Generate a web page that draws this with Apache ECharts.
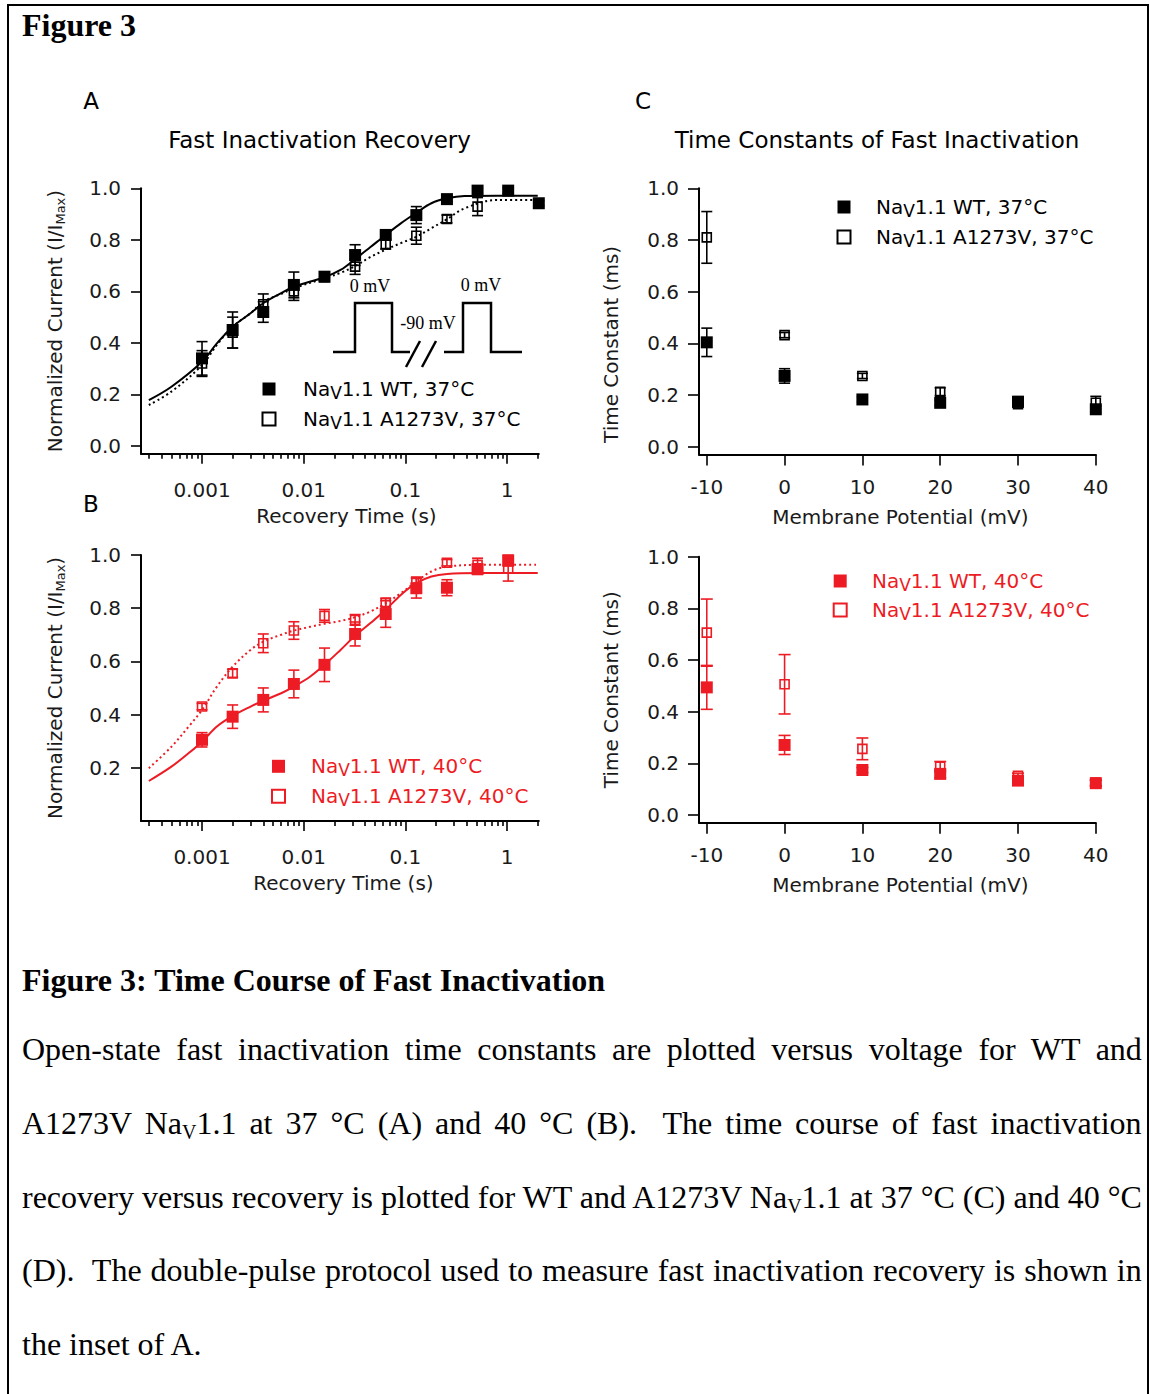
<!DOCTYPE html>
<html>
<head>
<meta charset="utf-8">
<script src="https://cdn.jsdelivr.net/npm/echarts@6/dist/echarts.min.js"></script>
<style>
  body { margin: 0; background: #fff; }
  #page { position: relative; width: 1150px; height: 1394px; overflow: hidden; background: #fff; }
  #frame { position: absolute; left: 7px; top: 4px; width: 1142px; height: 1420px; border: 2px solid #000; box-sizing: border-box; }
  #chart { position: absolute; left: 0; top: 0; width: 1150px; height: 940px; }
  .serif { position: absolute; left: 22px; font-family: "Liberation Serif", "Times New Roman", serif; color: #000; white-space: nowrap; line-height: 32px; }
  .bold { font-weight: bold; font-size: 32px; }
  .body { font-size: 32px; }
  .sub { font-size: 20px; position: relative; top: 5px; }
</style>
</head>
<body>
<div id="page">
  <div id="frame"></div>
  <div class="serif bold" style="top:9px">Figure 3</div>
  <div id="chart"></div>
  <div class="serif bold" style="top:964px">Figure 3: Time Course of Fast Inactivation</div>
  <div class="serif body fit" style="top:1033px">Open-state fast inactivation time constants are plotted versus voltage for WT and</div>
  <div class="serif body fit" style="top:1107px">A1273V Na<span class="sub">V</span>1.1 at 37 °C (A) and 40 °C (B).&nbsp; The time course of fast inactivation</div>
  <div class="serif body fit" style="top:1181px">recovery versus recovery is plotted for WT and A1273V Na<span class="sub">V</span>1.1 at 37 °C (C) and 40 °C</div>
  <div class="serif body fit" style="top:1254px">(D).&nbsp; The double-pulse protocol used to measure fast inactivation recovery is shown in</div>
  <div class="serif body" style="top:1328px">the inset of A.</div>
</div>
<script>
// ---------- recovery from fast inactivation (A: 37ºC, B: 40ºC) ----------
var recTimes = [0.001, 0.002, 0.004, 0.008, 0.016, 0.032, 0.064, 0.128, 0.256, 0.512, 1.024, 2.048];

var wt37     = [0.34, 0.45, 0.52, 0.625, 0.657, 0.741, 0.819, 0.896, 0.958, 0.991, 0.991, 0.942];
var wt37Err  = [0.065, 0.07, 0.04, 0.05, 0.015, 0.04, 0.02, 0.033, 0.01, 0.01, 0.01, 0.01];
var mut37    = [0.32, 0.44, 0.55, 0.60, 0.655, 0.696, 0.784, 0.816, 0.881, 0.929];
var mut37Err = [0.05, 0.06, 0.04, 0.035, 0.015, 0.03, 0.02, 0.033, 0.015, 0.035];

var wt40     = [0.305, 0.392, 0.455, 0.515, 0.587, 0.703, 0.778, 0.875, 0.877, 0.947, 0.979];
var wt40Err  = [0.027, 0.044, 0.045, 0.052, 0.063, 0.045, 0.05, 0.037, 0.03, 0.02, 0.02];
var mut40    = [0.43, 0.555, 0.668, 0.716, 0.771, 0.756, 0.821, 0.90, 0.971, 0.963, 0.95];
var mut40Err = [0.012, 0.015, 0.035, 0.033, 0.024, 0.02, 0.015, 0.015, 0.012, 0.025, 0.048];

// fitted curves
var fitTimesA = [0.0003, 0.0005, 0.001, 0.0014, 0.002, 0.003, 0.004, 0.006, 0.008, 0.016, 0.023, 0.032, 0.045, 0.064, 0.09, 0.128, 0.18, 0.256, 0.38, 0.8, 2.0];
var fitWt37   = [0.178, 0.230, 0.327, 0.398, 0.463, 0.515, 0.554, 0.593, 0.618, 0.655, 0.683, 0.725, 0.771, 0.819, 0.864, 0.905, 0.942, 0.961, 0.970, 0.971, 0.971];
var fitMut37  = [0.159, 0.211, 0.314, 0.392, 0.463, 0.515, 0.560, 0.590, 0.612, 0.651, 0.672, 0.698, 0.733, 0.762, 0.787, 0.812, 0.845, 0.880, 0.922, 0.955, 0.955];

var fitTimesB = [0.0003, 0.0005, 0.00074, 0.001, 0.0014, 0.002, 0.003, 0.004, 0.006, 0.008, 0.0116, 0.016, 0.023, 0.032, 0.045, 0.064, 0.09, 0.128, 0.18, 0.256, 0.55, 2.0];
var fitWt40   = [0.150, 0.204, 0.255, 0.298, 0.355, 0.395, 0.430, 0.452, 0.480, 0.505, 0.543, 0.587, 0.643, 0.696, 0.743, 0.794, 0.850, 0.894, 0.919, 0.929, 0.932, 0.932];
var fitMut40  = [0.198, 0.279, 0.355, 0.417, 0.505, 0.580, 0.643, 0.674, 0.700, 0.716, 0.730, 0.741, 0.752, 0.766, 0.787, 0.819, 0.856, 0.900, 0.938, 0.956, 0.963, 0.963];

// ---------- time constants (C: 37°C, D: 40°C) ----------
var voltages = [-10, 0, 10, 20, 30, 40];
var tauWt37     = [0.404, 0.274, 0.183, 0.170, 0.174, 0.145];
var tauWt37Err  = [0.055, 0.028, 0.01, 0.01, 0.02, 0.012];
var tauMut37    = [0.81, 0.432, 0.274, 0.213, 0.165, 0.17];
var tauMut37Err = [0.10, 0.01, 0.01, 0.015, 0.01, 0.025];
var tauWt40     = [0.494, 0.271, 0.174, 0.159, 0.133, 0.123];
var tauWt40Err  = [0.085, 0.037, 0.01, 0.015, 0.012, 0.012];
var tauMut40    = [0.706, 0.506, 0.256, 0.187, 0.152, 0.125];
var tauMut40Err = [0.13, 0.115, 0.042, 0.02, 0.01, 0.01];

// ---------- ticks ----------
var yTicks = [0, 0.2, 0.4, 0.6, 0.8, 1.0];
var yTicksB = [0.2, 0.4, 0.6, 0.8, 1.0];
var timeMajor = [0.001, 0.01, 0.1, 1];
var timeMajorLabels = ['0.001', '0.01', '0.1', '1'];
var timeMinor = [0.0003, 0.0004, 0.0005, 0.0006, 0.0007, 0.0008, 0.0009,
  0.002, 0.003, 0.004, 0.005, 0.006, 0.007, 0.008, 0.009,
  0.02, 0.03, 0.04, 0.05, 0.06, 0.07, 0.08, 0.09,
  0.2, 0.3, 0.4, 0.5, 0.6, 0.7, 0.8, 0.9, 2];
var vTicks = [-10, 0, 10, 20, 30, 40];

var FONT = 'DejaVu Sans';
var RED = '#ed1c24';
var TXT = '#1a1a1a';
var lg = function (t) { return Math.log10(t); };

function pairs(xs, ys, tf) {
  return ys.map(function (y, i) { return [tf ? tf(xs[i]) : xs[i], y]; });
}
function triples(xs, ys, es, tf) {
  return ys.map(function (y, i) { return [tf ? tf(xs[i]) : xs[i], y, es[i]]; });
}

function errBars(xi, yi, data, color, cap) {
  return {
    type: 'custom', xAxisIndex: xi, yAxisIndex: yi, z: 3, silent: true,
    encode: { x: 0, y: 1 },
    data: data,
    renderItem: function (params, api) {
      var x = api.value(0), y = api.value(1), e = api.value(2);
      var p1 = api.coord([x, y + e]);
      var p2 = api.coord([x, y - e]);
      var st = { stroke: color, lineWidth: 1.6 };
      return {
        type: 'group',
        children: [
          { type: 'line', shape: { x1: p1[0], y1: p1[1], x2: p2[0], y2: p2[1] }, style: st },
          { type: 'line', shape: { x1: p1[0] - cap, y1: p1[1], x2: p1[0] + cap, y2: p1[1] }, style: st },
          { type: 'line', shape: { x1: p2[0] - cap, y1: p2[1], x2: p2[0] + cap, y2: p2[1] }, style: st }
        ]
      };
    }
  };
}

function fitLine(xi, yi, data, color, dotted) {
  return {
    type: 'line', xAxisIndex: xi, yAxisIndex: yi, z: 2, silent: true,
    data: data, smooth: 0.35, symbol: 'none', showSymbol: false,
    lineStyle: { color: color, width: 2, type: dotted ? [2, 3] : 'solid' }
  };
}

function marks(name, xi, yi, data, color, open) {
  return {
    type: 'scatter', name: name, xAxisIndex: xi, yAxisIndex: yi, z: open ? 5 : 4,
    data: data, symbol: 'rect', symbolSize: open ? 9 : 12,
    itemStyle: open ? { color: 'rgba(0,0,0,0)', borderColor: color, borderWidth: 1.6, opacity: 1 }
                    : { color: color, opacity: 1 }
  };
}

var axisLineStyle = { color: '#000', width: 2 };

function timeAxisMajor(grid) {
  return {
    type: 'value', gridIndex: grid, position: 'bottom', min: -3.6, max: lg(2.048),
    axisLine: { onZero: false, lineStyle: axisLineStyle },
    axisTick: { customValues: timeMajor.map(lg), length: 10, lineStyle: { color: '#000', width: 1.6 } },
    axisLabel: {
      customValues: timeMajor.map(lg), margin: 26, fontSize: 20, fontFamily: FONT, color: TXT,
      formatter: function (v) { return timeMajorLabels[Math.round(v) + 3]; }
    },
    splitLine: { show: false },
    name: 'Recovery Time (s)', nameLocation: 'middle', nameGap: 52,
    nameTextStyle: { fontSize: 20, fontFamily: FONT, color: TXT, padding: [0, 0, 0, grid === 0 ? 13 : 7] }
  };
}
function timeAxisMinor(grid) {
  return {
    type: 'value', gridIndex: grid, position: 'bottom', min: -3.6, max: lg(2.048),
    axisLine: { show: false, onZero: false },
    axisTick: { customValues: timeMinor.map(lg), length: 5, lineStyle: { color: '#000', width: 1.6 } },
    axisLabel: { show: false },
    splitLine: { show: false }
  };
}
function voltAxis(grid) {
  return {
    type: 'value', gridIndex: grid, position: 'bottom', min: -11, max: 40,
    axisLine: { onZero: false, lineStyle: axisLineStyle },
    axisTick: { customValues: vTicks, length: 11, lineStyle: { color: '#000', width: 1.6 } },
    axisLabel: { customValues: vTicks, margin: 22, fontSize: 20, fontFamily: FONT, color: TXT },
    splitLine: { show: false },
    name: 'Membrane Potential (mV)', nameLocation: 'middle', nameGap: 52,
    nameTextStyle: { fontSize: 20, fontFamily: FONT, color: TXT, padding: [0, 0, 0, 6] }
  };
}
function valueAxis(grid, min, ticks, name, gap, pad, tickLen) {
  return {
    type: 'value', gridIndex: grid, min: min, max: 1,
    axisLine: { onZero: false, lineStyle: axisLineStyle },
    axisTick: { customValues: ticks, length: tickLen, lineStyle: { color: '#000', width: 1.6 } },
    axisLabel: {
      customValues: ticks, margin: 20, fontSize: 20, fontFamily: FONT, color: TXT,
      formatter: function (v) { return v.toFixed(1); }
    },
    splitLine: { show: false },
    name: name, nameLocation: 'middle', nameRotate: 90, nameGap: gap,
    nameTextStyle: {
      fontSize: 20, fontFamily: FONT, color: TXT, padding: pad,
      rich: {
        a: { fontSize: 20, fontFamily: FONT, color: TXT, lineHeight: 24 },
        b: { fontSize: 13, fontFamily: FONT, color: TXT, lineHeight: 12, verticalAlign: 'bottom' }
      }
    }
  };
}

var legendLabels = {
  wtA: ['Na', 'V', '1.1 WT, 37°C'],
  mutA: ['Na', 'V', '1.1 A1273V, 37°C'],
  wtB: ['Na', 'V', '1.1 WT, 40°C'],
  mutB: ['Na', 'V', '1.1 A1273V, 40°C'],
  wtC: ['Na', 'V', '1.1 WT, 37°C'],
  mutC: ['Na', 'V', '1.1 A1273V, 37°C'],
  wtD: ['Na', 'V', '1.1 WT, 40°C'],
  mutD: ['Na', 'V', '1.1 A1273V, 40°C']
};
function legendAt(ids, left, top, gap, spacer, color) {
  return {
    orient: 'vertical', left: left, top: top, padding: 0, itemGap: gap,
    itemWidth: 13, itemHeight: 13, selectedMode: false, data: ids,
    itemStyle: { opacity: 1 },
    formatter: function (id) {
      var p = legendLabels[id];
      return '{g|}{n|' + p[0] + '}{s|' + p[1] + '}{n|' + p[2] + '}';
    },
    textStyle: {
      color: color,
      rich: {
        g: { width: spacer, lineHeight: 24 },
        n: { fontSize: 20, fontFamily: FONT, color: color, lineHeight: 24 },
        s: { fontSize: 17, fontFamily: FONT, color: color, lineHeight: 14, verticalAlign: 'bottom' }
      }
    }
  };
}

function label(text, x, y, size) {
  return { type: 'text', x: x, y: y, silent: true,
    style: { text: text, fontSize: size, fontFamily: FONT, fill: '#000', align: 'center', verticalAlign: 'middle' } };
}
function serifLabel(text, x, y) {
  return { type: 'text', x: x, y: y, silent: true,
    style: { text: text, fontSize: 18, fontFamily: 'Liberation Serif', fill: '#000', align: 'center', verticalAlign: 'middle' } };
}
function pen(points) {
  return { type: 'polyline', silent: true, shape: { points: points },
    style: { stroke: '#000', lineWidth: 2.5, fill: null } };
}

var option = {
  animation: false,
  backgroundColor: 'transparent',
  grid: [
    { left: 141, top: 188.3, width: 397.8, height: 265.4, containLabel: false, outerBoundsMode: 'none' },
    { left: 141, top: 555, width: 397.8, height: 265.9, containLabel: false, outerBoundsMode: 'none' },
    { left: 699, top: 188.3, width: 396.8, height: 266.2, containLabel: false, outerBoundsMode: 'none' },
    { left: 699, top: 556.7, width: 396.8, height: 266, containLabel: false, outerBoundsMode: 'none' }
  ],
  xAxis: [timeAxisMajor(0), timeAxisMinor(0), timeAxisMajor(1), timeAxisMinor(1), voltAxis(2), voltAxis(3)],
  yAxis: [
    valueAxis(0, -0.03, yTicks, '{a|Normalized Current (I/I}{b|Max}{a|)}', 74, 0, 10),
    valueAxis(1, 0, yTicksB, '{a|Normalized Current (I/I}{b|Max}{a|)}', 74, 0, 10),
    valueAxis(2, -0.03, yTicks, 'Time Constant (ms)', 78, [0, 46, 0, 0], 11),
    valueAxis(3, -0.03, yTicks, 'Time Constant (ms)', 78, 0, 11)
  ],
  legend: [
    legendAt(['wtA', 'mutA'], 261.5, 379, 8, 22.5, '#000'),
    legendAt(['wtB', 'mutB'], 271, 756.3, 8, 21, RED),
    legendAt(['wtC', 'mutC'], 836.5, 197, 8, 20.5, '#000'),
    legendAt(['wtD', 'mutD'], 832.7, 571, 7, 20.3, RED)
  ],
  graphic: [
    label('A', 91, 101, 23), label('C', 643, 101, 23), label('B', 91, 504, 23),
    label('Fast Inactivation Recovery', 319.5, 140, 23),
    label('Time Constants of Fast Inactivation', 877, 140, 23),
    // double-pulse protocol inset
    pen([[333, 352], [355, 352], [355, 303], [392, 303], [392, 352], [410, 352]]),
    pen([[444, 352], [463, 352], [463, 303], [491, 303], [491, 352], [522, 352]]),
    pen([[406, 367], [420, 341]]),
    pen([[422, 367], [436, 341]]),
    serifLabel('0 mV', 370, 286), serifLabel('0 mV', 481, 285), serifLabel('-90 mV', 428, 323)
  ],
  series: [
    // A
    fitLine(0, 0, pairs(fitTimesA, fitWt37, lg), '#000', false),
    fitLine(0, 0, pairs(fitTimesA, fitMut37, lg), '#000', true),
    errBars(0, 0, triples(recTimes, wt37, wt37Err, lg), '#000', 5.5),
    errBars(0, 0, triples(recTimes, mut37, mut37Err, lg), '#000', 5.5),
    marks('wtA', 0, 0, pairs(recTimes, wt37, lg), '#000', false),
    marks('mutA', 0, 0, pairs(recTimes, mut37, lg), '#000', true),
    // B
    fitLine(2, 1, pairs(fitTimesB, fitWt40, lg), RED, false),
    fitLine(2, 1, pairs(fitTimesB, fitMut40, lg), RED, true),
    errBars(2, 1, triples(recTimes, wt40, wt40Err, lg), RED, 5.5),
    errBars(2, 1, triples(recTimes, mut40, mut40Err, lg), RED, 5.5),
    marks('wtB', 2, 1, pairs(recTimes, wt40, lg), RED, false),
    marks('mutB', 2, 1, pairs(recTimes, mut40, lg), RED, true),
    // C
    errBars(4, 2, triples(voltages, tauWt37, tauWt37Err), '#000', 5.5),
    errBars(4, 2, triples(voltages, tauMut37, tauMut37Err), '#000', 5.5),
    marks('wtC', 4, 2, pairs(voltages, tauWt37), '#000', false),
    marks('mutC', 4, 2, pairs(voltages, tauMut37), '#000', true),
    // D
    errBars(5, 3, triples(voltages, tauWt40, tauWt40Err), RED, 6),
    errBars(5, 3, triples(voltages, tauMut40, tauMut40Err), RED, 6),
    marks('wtD', 5, 3, pairs(voltages, tauWt40), RED, false),
    marks('mutD', 5, 3, pairs(voltages, tauMut40), RED, true)
  ]
};

var chart = echarts.init(document.getElementById('chart'), null, { renderer: 'svg' });
chart.setOption(option);

// justify caption lines to the text block width
var target = 1120;
document.querySelectorAll('.fit').forEach(function (el) {
  var natural = el.scrollWidth;
  var spaces = (el.textContent.match(/[ \u00a0]/g) || []).length;
  if (spaces > 0) el.style.wordSpacing = ((target - natural) / spaces) + 'px';
});
</script>
</body>
</html>
